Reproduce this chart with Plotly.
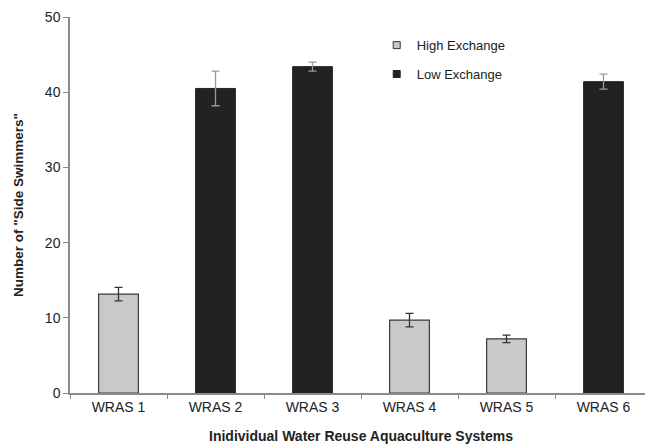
import plotly.graph_objects as go

categories = ["WRAS 1", "WRAS 2", "WRAS 3", "WRAS 4", "WRAS 5", "WRAS 6"]
high_x = ["WRAS 1", "WRAS 4", "WRAS 5"]
high_y = [13.15, 9.7, 7.2]
high_err = [0.9, 0.9, 0.5]
low_x = ["WRAS 2", "WRAS 3", "WRAS 6"]
low_y = [40.5, 43.4, 41.4]
low_err = [2.3, 0.6, 1.0]

HIGH_COLOR = "#c9c9c9"
LOW_COLOR = "#222222"

fig = go.Figure()
fig.add_trace(go.Bar(
    x=high_x, y=high_y, name="High Exchange", width=0.41, showlegend=False,
    marker=dict(color=HIGH_COLOR, line=dict(color="#3a3a3a", width=1.2)),
    error_y=dict(type="data", array=high_err, color="#333333", thickness=1.3, width=4),
))
fig.add_trace(go.Bar(
    x=low_x, y=low_y, name="Low Exchange", width=0.41, showlegend=False,
    marker=dict(color=LOW_COLOR, line=dict(color=LOW_COLOR, width=1)),
    error_y=dict(type="data", array=low_err, color="#9a9a9a", thickness=1.3, width=4),
))
# legend entries with small square swatches
fig.add_trace(go.Scatter(
    x=[None], y=[None], mode="markers", name="High Exchange", legendgroup="h",
    marker=dict(symbol="square", size=7, color=HIGH_COLOR, line=dict(color="#333333", width=1)),
))
fig.add_trace(go.Scatter(
    x=[None], y=[None], mode="markers", name="Low Exchange", legendgroup="l",
    marker=dict(symbol="square", size=7, color=LOW_COLOR, line=dict(color=LOW_COLOR, width=1)),
))

fig.update_layout(
    barmode="overlay",
    width=653, height=447,
    margin=dict(l=62, r=9, t=9, b=62),
    paper_bgcolor="white", plot_bgcolor="white",
    font=dict(family="Liberation Sans, Arial, sans-serif", color="#222222"),
    legend=dict(x=0.527, y=0.965, xanchor="left", yanchor="top",
                font=dict(size=13, color="#222222"), tracegroupgap=9,
                traceorder="grouped",
                bgcolor="rgba(0,0,0,0)", itemwidth=30),
    showlegend=True,
)
fig.update_xaxes(
    categoryorder="array", categoryarray=categories, automargin=False,
    showline=True, linecolor="#8a8a8a", linewidth=1.5,
    ticks="outside", tickson="boundaries", ticklen=4, tickcolor="#8a8a8a",
    tickfont=dict(size=14, color="#222222"),
    title=dict(text="<b>Inidividual Water Reuse Aquaculture Systems</b>",
               font=dict(size=14, color="#222222"), standoff=18),
    showgrid=False,
)
fig.update_yaxes(
    range=[0, 50], dtick=10, automargin=False,
    showline=True, linecolor="#8a8a8a", linewidth=1.5,
    ticks="outside", ticklen=5, tickcolor="#8a8a8a",
    tickfont=dict(size=14, color="#222222"),
    title=dict(text="<b>Number of \"Side Swimmers\"</b>",
               font=dict(size=13.5, color="#222222"), standoff=18),
    showgrid=False, zeroline=False,
)

fig.write_html("out.html")
